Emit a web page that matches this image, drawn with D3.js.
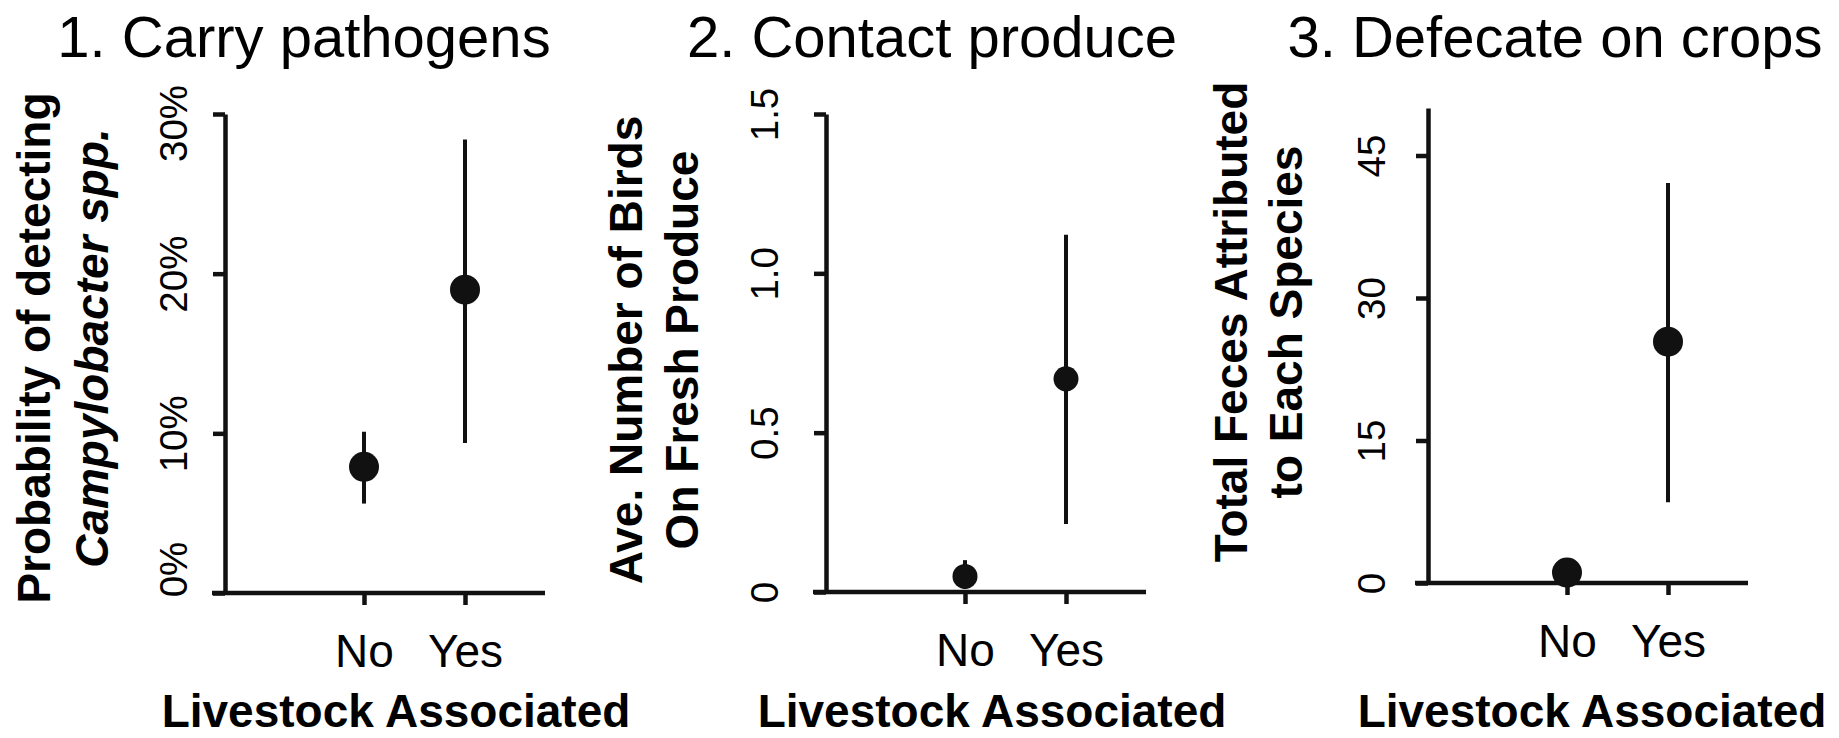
<!DOCTYPE html>
<html>
<head>
<meta charset="utf-8">
<script src="https://cdn.jsdelivr.net/npm/d3@7"></script>
<style>
  html, body { margin: 0; padding: 0; background: #fff; }
  svg { display: block; }
  text { font-family: "Liberation Sans", Arial, Helvetica, sans-serif; fill: #000; }
</style>
</head>
<body>
<script>
// values
const groups = ["No", "Yes"];

const campyMean = [0.079, 0.190];
const campyLow = [0.056, 0.094];
const campyHigh = [0.101, 0.284];
const campyTicks = [0, 0.1, 0.2, 0.3];
const campyTickLabels = ["0%", "10%", "20%", "30%"];

const contactMean = [0.049, 0.669];
const contactLow = [0.01, 0.213];
const contactHigh = [0.100, 1.121];
const contactTicks = [0, 0.5, 1.0, 1.5];
const contactTickLabels = ["0", "0.5", "1.0", "1.5"];

const fecesMean = [1.1, 25.4];
const fecesLow = [0.4, 8.5];
const fecesHigh = [1.9, 42.1];
const fecesTicks = [0, 15, 30, 45];
const fecesTickLabels = ["0", "15", "30", "45"];

const titles = ["1. Carry pathogens", "2. Contact produce", "3. Defecate on crops"];
const xTitle = "Livestock Associated";

const width = 1839, height = 738;

const svg = d3.select("body").append("svg")
  .attr("width", width)
  .attr("height", height);

// layout per panel (pixel positions)
const panels = [
  {
    title: titles[0], titleX: 304,
    mean: campyMean, low: campyLow, high: campyHigh,
    ticks: campyTicks, tickLabels: campyTickLabels,
    domain: [0, 0.3], x0: 225, yBottom: 593, yTop: 114,
    tickLabelOff: 38, tickLabelShift: [-24, 0, 0, 9], r: 15,
    ylab: [
      { text: "Probability of detecting", off: 175, italic: false },
      { text: "Campylobacter spp.", off: 117, italic: true }
    ],
    ylabY: 348, xlabX: 396
  },
  {
    title: titles[1], titleX: 932,
    mean: contactMean, low: contactLow, high: contactHigh,
    ticks: contactTicks, tickLabels: contactTickLabels,
    domain: [0, 1.5], x0: 826, yBottom: 592, yTop: 114,
    tickLabelOff: 48, tickLabelShift: [0, 0, 0, 0], r: 12.5,
    ylab: [
      { text: "Ave. Number of Birds", off: 184, italic: false },
      { text: "On Fresh Produce", off: 128, italic: false }
    ],
    ylabY: 350, xlabX: 992
  },
  {
    title: titles[2], titleX: 1555,
    mean: fecesMean, low: fecesLow, high: fecesHigh,
    ticks: fecesTicks, tickLabels: fecesTickLabels,
    domain: [0, 50], x0: 1428, yBottom: 583, yTop: 108,
    tickLabelOff: 43, tickLabelShift: [0, 0, 0, 0], r: 15,
    ylab: [
      { text: "Total Feces Attributed", off: 181, italic: false },
      { text: "to Each Species", off: 126, italic: false }
    ],
    ylabY: 322, xlabX: 1592
  }
];

const ink = "#111";

panels.forEach(function (p) {
  const g = svg.append("g");

  const y = d3.scaleLinear().domain(p.domain).range([p.yBottom, p.yTop]);
  const x = d3.scalePoint().domain(groups).range([p.x0 + 139, p.x0 + 240]);

  // title
  g.append("text")
    .attr("x", p.titleX)
    .attr("y", 57)
    .attr("text-anchor", "middle")
    .style("font-size", "58px")
    .text(p.title);

  // y axis
  const yAxis = d3.axisLeft(y)
    .tickValues(p.ticks)
    .tickFormat(function (d, i) { return p.tickLabels[i]; })
    .tickSizeInner(12)
    .tickSizeOuter(0);

  const ya = g.append("g")
    .attr("transform", "translate(" + p.x0 + ",0)")
    .call(yAxis);
  ya.select(".domain").attr("stroke", ink).attr("stroke-width", 4.5);
  ya.selectAll(".tick line").attr("stroke", ink).attr("stroke-width", 4.5);
  ya.selectAll(".tick text")
    .attr("transform", "rotate(-90)")
    .attr("x", function (d, i) { return -p.tickLabelShift[i]; })
    .attr("y", -p.tickLabelOff)
    .attr("dy", 0)
    .attr("text-anchor", "middle")
    .style("font-size", "38.5px")
    .style("font-family", "'Liberation Sans', Arial, sans-serif")
    .attr("fill", "#000");

  // x axis
  const xAxis = d3.axisBottom(x).tickSizeInner(12).tickSizeOuter(0);
  const xa = g.append("g")
    .attr("transform", "translate(0," + p.yBottom + ")")
    .call(xAxis);
  xa.select(".domain").remove();
  xa.selectAll(".tick line").attr("stroke", ink).attr("stroke-width", 4.5);
  xa.selectAll(".tick text")
    .attr("y", 74)
    .attr("dy", 0)
    .style("font-size", "46px")
    .style("font-family", "'Liberation Sans', Arial, sans-serif")
    .attr("fill", "#000");

  g.append("line")
    .attr("x1", p.x0 - 13)
    .attr("x2", p.x0 + 320)
    .attr("y1", p.yBottom)
    .attr("y2", p.yBottom)
    .attr("stroke", ink)
    .attr("stroke-width", 4.5);

  // y axis title, two lines rotated
  p.ylab.forEach(function (l) {
    g.append("text")
      .attr("transform", "translate(" + (p.x0 - l.off) + "," + p.ylabY + ") rotate(-90)")
      .attr("text-anchor", "middle")
      .style("font-size", "46px")
      .style("font-weight", "bold")
      .style("font-style", l.italic ? "italic" : "normal")
      .text(l.text);
  });

  // x axis title
  g.append("text")
    .attr("x", p.xlabX)
    .attr("y", 727)
    .attr("text-anchor", "middle")
    .style("font-size", "46px")
    .style("font-weight", "bold")
    .text(xTitle);

  // error bars and points
  const rows = groups.map(function (k, i) {
    return { key: k, mean: p.mean[i], low: p.low[i], high: p.high[i] };
  });

  g.selectAll(".err")
    .data(rows)
    .enter()
    .append("line")
    .attr("x1", function (d) { return x(d.key); })
    .attr("x2", function (d) { return x(d.key); })
    .attr("y1", function (d) { return y(d.low); })
    .attr("y2", function (d) { return y(d.high); })
    .attr("stroke", ink)
    .attr("stroke-width", 4);

  g.selectAll(".pt")
    .data(rows)
    .enter()
    .append("circle")
    .attr("cx", function (d) { return x(d.key); })
    .attr("cy", function (d) { return y(d.mean); })
    .attr("r", p.r)
    .attr("fill", ink);
});
</script>
</body>
</html>
